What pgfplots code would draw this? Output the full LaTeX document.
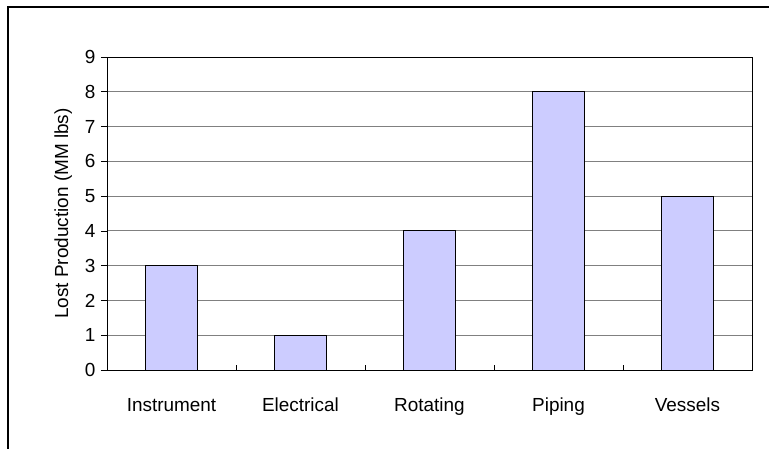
\documentclass[border=0pt]{standalone}
\usepackage{pgfplots}
\pgfplotsset{compat=1.18}
\usetikzlibrary{calc}
\usepackage{fontspec}
\setmainfont{Liberation Sans}
\definecolor{barfill}{HTML}{CCCCFF}
\begin{document}
\begin{tikzpicture}
\begin{axis}[
  scale only axis, width=645bp, height=313bp,
  xmin=-0.5, xmax=4.5, ymin=0, ymax=9,
  xtick={0,1,2,3,4},
  xticklabels={Instrument,Electrical,Rotating,Piping,Vessels},
  minor xtick={0.5,1.5,2.5,3.5},
  ytick={0,...,9},
  ymajorgrids, grid style={gray, line width=0.8pt},
  axis line style={line width=0.8pt},
  major tick length=6bp, minor tick length=5bp,
  major x tick style={draw=none},
  minor x tick style={black, line width=0.6pt},
  major y tick style={black, line width=0.6pt},
  xtick align=inside, ytick align=outside,
  xtick pos=bottom, ytick pos=left,
  tick label style={font=\fontsize{19}{22}\selectfont},
  xticklabel style={anchor=base, yshift=-41bp},
  yticklabel style={xshift=-2bp},
  label style={font=\fontsize{19}{22}\selectfont},
  ylabel={Lost Production (MM lbs)},
  ylabel style={yshift=6bp},
  /pgf/number format/assume math mode=true,
]
\addplot[ybar, bar width=0.4, fill=barfill, draw=black, line width=1pt] coordinates {(0,3) (1,1) (2,4) (3,8) (4,5)};
\coordinate (ll) at (rel axis cs:0,0);
\end{axis}
\draw[line width=2bp] ($(ll)+(-98.5bp,-79bp)$) -- ($(ll)+(-98.5bp,362.5bp)$) -- ($(ll)+(662bp,362.5bp)$);
\pgfresetboundingbox
\path[use as bounding box] ($(ll)+(-107bp,-79bp)$) rectangle ($(ll)+(664bp,370bp)$);
\end{tikzpicture}
\end{document}
